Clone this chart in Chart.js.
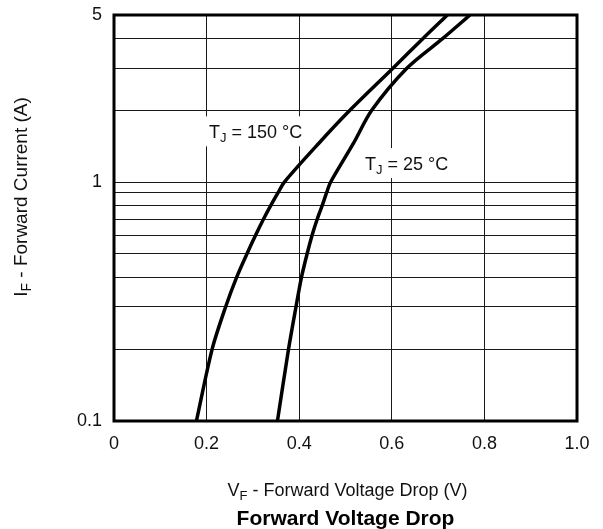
<!DOCTYPE html>
<html>
<head>
<meta charset="utf-8">
<script src="https://cdn.jsdelivr.net/npm/chart.js@4/dist/chart.umd.min.js"></script>
<style>
  html, body { margin: 0; padding: 0; background: #fff; }
  #wrap { width: 603px; height: 529px; position: relative; }
</style>
</head>
<body>
<div id="wrap"><canvas id="chart"></canvas></div>
<script>
// Forward current (A) at which each curve is sampled
const forwardCurrent = [0.1, 0.2, 0.3, 0.4, 0.5, 0.6, 0.7, 0.8, 0.9, 1.0, 1.45, 2, 3, 4, 5];
// Forward voltage drop (V) at TJ = 150 °C
const vfTj150 = [0.178, 0.212, 0.241, 0.265, 0.287, 0.306, 0.323, 0.339, 0.354, 0.368, 0.442, 0.510, 0.603, 0.668, 0.720];
// Forward voltage drop (V) at TJ = 25 °C
const vfTj25 = [0.353, 0.377, 0.393, 0.405, 0.417, 0.428, 0.439, 0.450, 0.459, 0.468, 0.517, 0.557, 0.633, 0.711, 0.769];

// Axis ticks
const xTickValues = [0, 0.2, 0.4, 0.6, 0.8, 1.0];
const yGridValues = [0.1, 0.2, 0.3, 0.4, 0.5, 0.6, 0.7, 0.8, 0.9, 1, 2, 3, 4, 5];
const yTickLabels = [0.1, 1, 5];

const FONT = "'Liberation Sans', Arial, Helvetica, sans-serif";

function toPoints(vs, is) {
  return vs.map((v, k) => ({ x: v, y: is[k] }));
}

// Draws a run of text segments, some of them as subscripts
function drawRich(ctx, parts, x, y, size, weight, align) {
  const subSize = Math.round(size * 0.72);
  const fontFor = p => `${weight} ${p.sub ? subSize : size}px ${FONT}`;
  let total = 0;
  parts.forEach(p => { ctx.font = fontFor(p); total += ctx.measureText(p.t).width; });
  let cx = align === 'center' ? x - total / 2 : x;
  ctx.textAlign = 'left';
  ctx.textBaseline = 'alphabetic';
  parts.forEach(p => {
    ctx.font = fontFor(p);
    ctx.fillText(p.t, cx, y + (p.sub ? 4 : 0));
    cx += ctx.measureText(p.t).width;
  });
  return total;
}

const curveLabels = [
  { parts: [{ t: 'T' }, { t: 'J', sub: true }, { t: ' = 150 °C' }], v: 0.205, i: 1.63 },
  { parts: [{ t: 'T' }, { t: 'J', sub: true }, { t: ' = 25 °C' }], v: 0.542, i: 1.20 }
];

const decor = {
  id: 'decor',
  beforeDatasetsDraw(chart) {
    const { ctx, scales } = chart;
    ctx.save();
    curveLabels.forEach(l => {
      const x = scales.x.getPixelForValue(l.v);
      const yc = scales.y.getPixelForValue(l.i);
      let w = 0;
      l.parts.forEach(p => {
        ctx.font = `${p.sub ? 13 : 18}px ${FONT}`;
        w += ctx.measureText(p.t).width;
      });
      ctx.fillStyle = '#fff';
      ctx.fillRect(x - 5, yc - 15, w + 10, 30);
      ctx.fillStyle = '#111';
      drawRich(ctx, l.parts, x, yc + 6.5, 18, 'normal', 'left');
    });
    ctx.restore();
  },
  afterDraw(chart) {
    const { ctx, chartArea: a } = chart;
    ctx.save();
    // plot frame
    ctx.strokeStyle = '#000';
    ctx.lineWidth = 3;
    ctx.strokeRect(a.left, a.top, a.right - a.left, a.bottom - a.top);

    ctx.fillStyle = '#111';
    const cx = (a.left + a.right) / 2;
    // x axis title
    drawRich(ctx, [{ t: 'V' }, { t: 'F', sub: true }, { t: ' - Forward Voltage Drop (V)' }],
      cx + 2, a.bottom + 75, 18, 'normal', 'center');
    // chart title under the axis
    ctx.fillStyle = '#000';
    drawRich(ctx, [{ t: 'Forward Voltage Drop' }], cx, a.bottom + 104, 21, 'bold', 'center');

    // y axis title
    ctx.fillStyle = '#111';
    ctx.translate(27, a.top + 182);
    ctx.rotate(-Math.PI / 2);
    drawRich(ctx, [{ t: 'I' }, { t: 'F', sub: true }, { t: ' - Forward Current (A)' }],
      0, 0, 19, 'normal', 'center');
    ctx.restore();
  }
};

new Chart(document.getElementById('chart'), {
  type: 'scatter',
  data: {
    datasets: [
      {
        label: 'TJ = 150 °C',
        data: toPoints(vfTj150, forwardCurrent),
        showLine: true,
        borderColor: '#000',
        borderWidth: 3.5,
        pointRadius: 0,
        tension: 0.3
      },
      {
        label: 'TJ = 25 °C',
        data: toPoints(vfTj25, forwardCurrent),
        showLine: true,
        borderColor: '#000',
        borderWidth: 3.5,
        pointRadius: 0,
        tension: 0.3
      }
    ]
  },
  options: {
    responsive: true,
    maintainAspectRatio: false,
    animation: false,
    devicePixelRatio: 1,
    layout: { padding: { top: 15, right: 26, bottom: 0, left: 0 } },
    plugins: { legend: { display: false }, tooltip: { enabled: false } },
    scales: {
      x: {
        type: 'linear',
        min: 0,
        max: 1,
        afterBuildTicks: s => { s.ticks = xTickValues.map(v => ({ value: v })); },
        afterFit: s => { s.height = 108; s.paddingLeft = 0; s.paddingRight = 0; },
        border: { display: false },
        grid: { color: '#1a1a1a', lineWidth: 1, drawTicks: false },
        ticks: {
          autoSkip: false,
          maxRotation: 0,
          padding: 12,
          color: '#111',
          font: { family: FONT, size: 18 },
          callback: v => (v === 0 ? '0' : Number(v).toFixed(1))
        }
      },
      y: {
        type: 'logarithmic',
        min: 0.1,
        max: 5,
        afterBuildTicks: s => { s.ticks = yGridValues.map(v => ({ value: v })); },
        afterFit: s => { s.width = 114; s.paddingTop = 0; s.paddingBottom = 0; },
        border: { display: false },
        grid: { color: '#1a1a1a', lineWidth: 1, drawTicks: false },
        ticks: {
          autoSkip: false,
          padding: 12,
          color: '#111',
          font: { family: FONT, size: 18 },
          callback: v => (yTickLabels.includes(v) ? String(v) : '')
        }
      }
    }
  },
  plugins: [decor]
});
</script>
</body>
</html>
